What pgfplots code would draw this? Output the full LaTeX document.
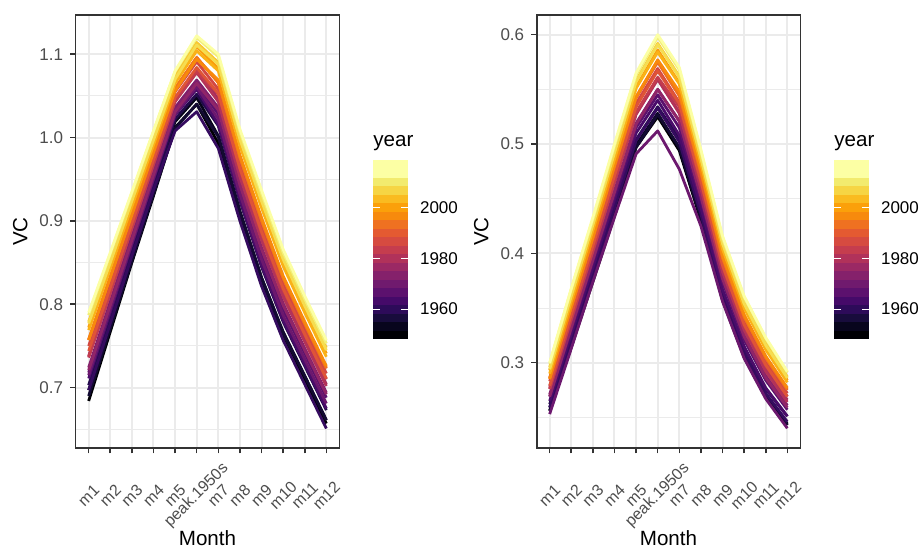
\documentclass[border=0pt]{standalone}
\usepackage{pgfplots}
\pgfplotsset{compat=1.18}
\usepackage{pgfplotstable}
\usepackage{fontspec}
\setmainfont{Liberation Sans}

\definecolor{gridc}{HTML}{EBEBEB}
\definecolor{borderc}{HTML}{333333}
\definecolor{tickc}{HTML}{4D4D4D}

\pgfplotsset{
  colormap={inferno}{
    rgb255=(0,0,4) rgb255=(8,6,29) rgb255=(22,11,57) rgb255=(42,11,87) rgb255=(66,10,104)
    rgb255=(87,15,109) rgb255=(106,23,110) rgb255=(127,30,108) rgb255=(147,38,103) rgb255=(168,46,95)
    rgb255=(188,55,84) rgb255=(205,67,71) rgb255=(221,81,58) rgb255=(233,99,42) rgb255=(243,120,25)
    rgb255=(249,142,9) rgb255=(252,165,10) rgb255=(249,190,35) rgb255=(246,215,70) rgb255=(241,237,113)
    rgb255=(252,255,164)
  },
  colormap={infbins}{
    rgb255=(0,0,4) rgb255=(8,5,29) rgb255=(24,12,60) rgb255=(45,11,89) rgb255=(69,10,105)
    rgb255=(92,17,110) rgb255=(112,26,110) rgb255=(133,33,107) rgb255=(155,41,100) rgb255=(177,50,90)
    rgb255=(197,61,78) rgb255=(214,75,64) rgb255=(228,90,49) rgb255=(239,113,33) rgb255=(247,138,13)
    rgb255=(251,160,10) rgb255=(250,187,32) rgb255=(246,213,68) rgb255=(242,235,110) rgb255=(252,255,164)
    rgb255=(252,255,164)
  },
}

\pgfplotstableread{
x y0 y1 y2 y3 y4 y5 y6 y7 y8 y9 y10 y11 y12 y13 y14 y15 y16 y17 y18 y19 y20 y21 y22 y23
1 0.684 0.697 0.690 0.703 0.697 0.711 0.718 0.715 0.724 0.721 0.738 0.736 0.737 0.750 0.744 0.757 0.758 0.757 0.772 0.769 0.779 0.777 0.787 0.790
2 0.767 0.778 0.771 0.783 0.777 0.790 0.798 0.794 0.803 0.799 0.816 0.813 0.814 0.826 0.820 0.832 0.833 0.832 0.847 0.843 0.853 0.850 0.860 0.862
3 0.850 0.860 0.852 0.864 0.858 0.871 0.877 0.873 0.882 0.877 0.894 0.891 0.891 0.903 0.897 0.909 0.909 0.907 0.922 0.917 0.927 0.924 0.933 0.935
4 0.930 0.939 0.932 0.943 0.937 0.949 0.955 0.951 0.959 0.955 0.971 0.967 0.968 0.979 0.973 0.984 0.984 0.982 0.996 0.991 1.001 0.997 1.007 1.008
5 1.012 1.019 1.011 1.022 1.008 1.027 1.033 1.028 1.036 1.031 1.047 1.043 1.044 1.055 1.048 1.059 1.059 1.056 1.070 1.065 1.074 1.070 1.079 1.080
6 1.040 1.048 1.040 1.052 1.031 1.058 1.065 1.061 1.069 1.065 1.082 1.078 1.079 1.091 1.084 1.096 1.096 1.094 1.109 1.104 1.114 1.111 1.120 1.122
7 0.993 1.002 1.001 1.014 0.987 1.016 1.028 1.022 1.036 1.033 1.046 1.043 1.052 1.058 1.053 1.066 1.066 1.069 1.083 1.080 1.090 1.088 1.097 1.100
8 0.904 0.912 0.911 0.924 0.900 0.926 0.938 0.932 0.946 0.943 0.956 0.953 0.962 0.968 0.963 0.976 0.976 0.979 0.993 0.990 1.000 0.998 1.007 1.010
9 0.824 0.832 0.832 0.845 0.822 0.847 0.860 0.854 0.868 0.866 0.879 0.877 0.885 0.892 0.887 0.900 0.901 0.904 0.919 0.916 0.926 0.924 0.933 0.937
10 0.759 0.767 0.766 0.779 0.757 0.781 0.794 0.787 0.801 0.799 0.811 0.809 0.817 0.824 0.819 0.831 0.832 0.834 0.849 0.846 0.856 0.854 0.862 0.866
11 0.708 0.714 0.714 0.726 0.704 0.728 0.741 0.734 0.747 0.745 0.757 0.755 0.763 0.770 0.764 0.776 0.777 0.779 0.794 0.790 0.801 0.798 0.806 0.810
12 0.657 0.661 0.661 0.673 0.651 0.675 0.688 0.681 0.694 0.692 0.704 0.702 0.710 0.717 0.711 0.723 0.724 0.726 0.741 0.737 0.748 0.745 0.753 0.757
}\dataL

\pgfplotstableread{
x y0 y1 y2 y3 y4 y5 y6 y7 y8 y9 y10 y11 y12 y13 y14 y15 y16 y17 y18 y19 y20 y21 y22 y23
1 0.256 0.259 0.256 0.262 0.259 0.265 0.269 0.253 0.271 0.269 0.278 0.276 0.276 0.283 0.279 0.286 0.286 0.285 0.293 0.290 0.296 0.294 0.299 0.300
2 0.314 0.318 0.316 0.322 0.320 0.326 0.330 0.313 0.333 0.332 0.341 0.339 0.340 0.347 0.344 0.351 0.351 0.351 0.359 0.356 0.363 0.361 0.367 0.368
3 0.374 0.379 0.376 0.383 0.380 0.387 0.392 0.374 0.395 0.394 0.403 0.402 0.402 0.410 0.407 0.414 0.415 0.414 0.423 0.421 0.427 0.426 0.431 0.433
4 0.434 0.439 0.437 0.444 0.442 0.449 0.453 0.433 0.457 0.456 0.466 0.465 0.466 0.474 0.471 0.479 0.480 0.480 0.488 0.486 0.493 0.492 0.498 0.500
5 0.497 0.499 0.497 0.504 0.503 0.510 0.515 0.491 0.519 0.518 0.528 0.527 0.529 0.537 0.534 0.542 0.543 0.543 0.552 0.551 0.558 0.557 0.563 0.565
6 0.525 0.528 0.527 0.534 0.533 0.540 0.545 0.512 0.550 0.550 0.560 0.559 0.561 0.569 0.567 0.575 0.576 0.577 0.586 0.584 0.592 0.591 0.598 0.600
7 0.494 0.496 0.497 0.505 0.502 0.508 0.515 0.477 0.521 0.521 0.529 0.528 0.534 0.538 0.537 0.544 0.545 0.548 0.556 0.555 0.562 0.561 0.568 0.570
8 0.430 0.432 0.432 0.440 0.436 0.442 0.449 0.425 0.453 0.452 0.460 0.459 0.464 0.468 0.466 0.473 0.474 0.476 0.483 0.482 0.488 0.487 0.493 0.495
9 0.357 0.359 0.358 0.366 0.362 0.367 0.374 0.356 0.378 0.377 0.385 0.383 0.388 0.392 0.389 0.396 0.396 0.398 0.406 0.404 0.410 0.409 0.414 0.416
10 0.305 0.307 0.306 0.314 0.309 0.315 0.321 0.304 0.325 0.324 0.331 0.330 0.334 0.338 0.335 0.342 0.342 0.344 0.351 0.350 0.355 0.354 0.360 0.361
11 0.268 0.270 0.269 0.276 0.272 0.277 0.284 0.267 0.288 0.286 0.294 0.292 0.297 0.300 0.298 0.304 0.305 0.306 0.314 0.312 0.318 0.316 0.322 0.323
12 0.243 0.244 0.243 0.251 0.246 0.251 0.257 0.240 0.261 0.259 0.266 0.264 0.269 0.272 0.269 0.275 0.276 0.277 0.284 0.282 0.287 0.286 0.291 0.292
}\dataR

\pgfplotsset{
  ggpanel/.style={
    scale only axis, width=131.8pt, height=216.5pt,
    xmin=0.4, xmax=12.6,
    xtick={1,2,3,4,5,6,7,8,9,10,11,12},
    xticklabels={m1,m2,m3,m4,m5,peak.1950s,m7,m8,m9,m10,m11,m12},
    xmajorgrids, ymajorgrids, yminorgrids,
    major grid style={draw=gridc, line width=1pt},
    minor grid style={draw=gridc, line width=0.5pt},
    axis line style={draw=borderc, line width=0.8pt},
    major tick style={draw=borderc, line width=0.8pt},
    minor tick length=0pt,
    tick align=outside, major tick length=2.75pt,
    xtick pos=left, ytick pos=left,
    /pgf/number format/assume math mode=true,
    tick label style={font=\fontsize{8.5}{10}\selectfont, text=tickc},
    yticklabel style={/pgf/number format/.cd, fixed, fixed zerofill, precision=1},
    xticklabel style={font=\fontsize{8}{10}\selectfont, yshift=-21pt, rotate=45, anchor=center},
    every axis y label/.style={at={(axis description cs:-0.181,0.5)}, rotate=90, anchor=south, inner sep=0pt, font=\fontsize{10.3}{12}\selectfont},
    every axis x label/.style={at={(axis description cs:0.5,-0.2263)}, anchor=base, inner sep=0pt, font=\fontsize{10.3}{12}\selectfont},
    xlabel=Month, ylabel=VC,
    cycle list={[samples of colormap={24 of inferno}]},
    every axis plot/.append style={line width=1.4pt, line join=round, mark=none},
  },
  ggbar/.style={
    hide axis, scale only axis, width=17.5pt, height=89.5pt,
    xmin=0, xmax=1, ymin=0, ymax=1,
    colormap name=infbins, colormap access=piecewise constant,
    point meta min=1948.24, point meta max=2018.76,
    colorbar,
    colorbar style={
      at={(parent axis.south west)}, anchor=south west, xshift=0pt, yshift=0pt,
      scale only axis, width=17.5pt, height=89.5pt,
      ytick={1960,1980,2000}, scaled y ticks=false,
      yticklabel pos=right, ytick pos=both,
      tick align=inside, major tick length=3.5pt,
      major tick style={draw=white, line width=0.6pt},
      axis line style={draw=none},
      /pgf/number format/assume math mode=true,
      yticklabel style={font=\fontsize{8.5}{10}\selectfont, text=black, anchor=west, xshift=2.5pt, /pgf/number format/1000 sep={}},
      title=year,
      title style={at={(axis description cs:0,1)}, anchor=base west, yshift=0.5pt, inner sep=0pt, font=\fontsize{10.3}{12}\selectfont},
    },
  },
}

\begin{document}
\begin{tikzpicture}
\path[use as bounding box] (0pt,0pt) rectangle (461.5pt,274.5pt);

\begin{axis}[ggpanel, at={(37.85pt,50.5pt)}, anchor=south west,
  ymin=0.6276, ymax=1.147,
  ytick={0.7,0.8,0.9,1.0,1.1},
  minor ytick={0.65,0.75,0.85,0.95,1.05}]
\pgfplotsinvokeforeach{0,...,23}{\addplot+[] table[x=x, y=y#1]{\dataL};}
\end{axis}

\begin{axis}[ggpanel, at={(268.35pt,50.5pt)}, anchor=south west,
  ymin=0.222, ymax=0.618,
  ytick={0.3,0.4,0.5,0.6},
  minor ytick={0.25,0.35,0.45,0.55}]
\pgfplotsinvokeforeach{0,...,23}{\addplot+[] table[x=x, y=y#1]{\dataR};}
\end{axis}

\begin{axis}[ggbar, at={(177.96pt,105pt)}, anchor=south west]
\addplot[draw=none] coordinates {(0,0)};
\end{axis}

\begin{axis}[ggbar, at={(408.46pt,105pt)}, anchor=south west]
\addplot[draw=none] coordinates {(0,0)};
\end{axis}
\end{tikzpicture}
\end{document}
